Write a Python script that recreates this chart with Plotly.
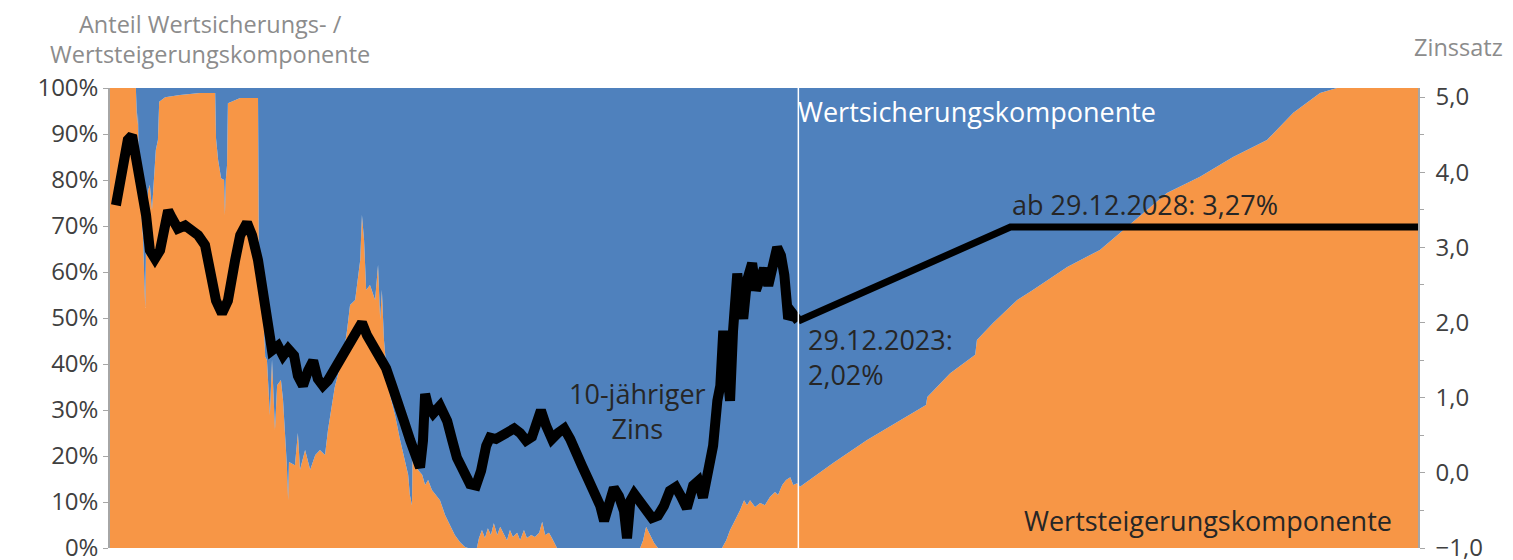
import plotly.graph_objects as go

# Anteil Wertsteigerungskomponente (linke Achse, %), Zeit in Jahren
anteil_jahr = [
    2007.76, 2008.37, 2008.40, 2008.42, 2008.44, 2008.49, 2008.54, 2008.59, 2008.61, 2008.66,
    2008.70, 2008.75, 2008.80, 2008.84, 2008.89, 2008.92, 2009.06, 2009.41, 2009.88, 2010.24,
    2010.26, 2010.31, 2010.38, 2010.45, 2010.47, 2010.49, 2010.52, 2010.54, 2010.83, 2011.25,
    2011.27, 2011.34, 2011.39, 2011.42, 2011.46, 2011.53, 2011.58, 2011.65, 2011.70, 2011.79,
    2011.84, 2011.89, 2011.93, 2011.96, 2011.98, 2012.12, 2012.19, 2012.24, 2012.36, 2012.48,
    2012.60, 2012.71, 2012.83, 2012.90, 2012.99, 2013.06, 2013.18, 2013.28, 2013.35, 2013.42,
    2013.54, 2013.66, 2013.70, 2013.75, 2013.80, 2013.89, 2014.01, 2014.08, 2014.13, 2014.17,
    2014.22, 2014.29, 2014.36, 2014.48, 2014.60, 2014.72, 2014.79, 2014.83, 2014.88, 2014.90,
    2014.95, 2015.02, 2015.12, 2015.19, 2015.26, 2015.35, 2015.45, 2015.54, 2015.66, 2015.78,
    2015.89, 2016.01, 2016.13, 2016.20, 2016.41, 2016.46, 2016.53, 2016.60, 2016.67, 2016.74,
    2016.81, 2016.89, 2016.96, 2017.03, 2017.12, 2017.19, 2017.26, 2017.36, 2017.43, 2017.52,
    2017.59, 2017.69, 2017.78, 2017.88, 2017.95, 2018.02, 2018.11, 2018.18, 2018.25, 2018.30,
    2020.26, 2020.33, 2020.40, 2020.49, 2020.59, 2020.68, 2022.19, 2022.29, 2022.38, 2022.50,
    2022.62, 2022.71, 2022.78, 2022.85, 2022.97, 2023.09, 2023.20, 2023.32, 2023.44, 2023.51,
    2023.61, 2023.70, 2023.80, 2023.87, 2023.96,
    # Prognose
    2024.03, 2024.81, 2025.61, 2026.39, 2027.00, 2027.03, 2027.57, 2028.16, 2028.20, 2028.58,
    2029.15, 2029.52, 2030.33, 2031.10, 2031.65, 2032.12, 2032.68, 2033.46, 2034.24, 2035.04,
    2035.66, 2036.29, 2036.69, 2038.60,
]
anteil_wertsteigerung = [
    100, 100, 92, 94.6, 81, 74.6, 67, 52.2, 65.9, 77.8,
    78.9, 73.5, 82.2, 86.5, 88.7, 97, 98, 98.5, 98.9, 98.9,
    89.1, 84.3, 80.4, 80, 72.4, 80, 83.3, 96.7, 97.8, 97.8,
    64.8, 61.5, 47.4, 41.5, 40.9, 28.9, 40.9, 25.7, 35.4, 36.5,
    32.2, 24.6, 18, 10.4, 18.7, 18, 25, 17, 21.3, 17,
    20.2, 21.3, 20.2, 25.7, 30.7, 35, 39.3, 43, 47.4, 52.8,
    53.9, 62.6, 72.4, 67, 56.1, 57.2, 53.9, 61.5, 49.6, 56.1,
    45.2, 37.6, 33.3, 28.9, 23.5, 19.1, 15.9, 11.5, 9.3, 24.6,
    23.5, 17, 15.9, 13.7, 14.8, 12.6, 11.5, 10.4, 7.2, 5,
    2.8, 1.3, 0.2, 0, 0, 2.2, 3.9, 2.2, 4.3, 2.8,
    5.4, 2.8, 4.6, 3.3, 1.7, 3.9, 2.4, 3.3, 1.7, 3.9,
    2.2, 2.8, 2.4, 3.3, 5.7, 2.8, 3.3, 2.2, 0.7, 0,
    0, 1.7, 4.6, 2.8, 1.1, 0, 0, 1.7, 3.9, 6.1,
    8.3, 10.4, 9.3, 10.4, 8.9, 9.8, 9.3, 11.1, 12.2, 11.5,
    13.7, 14.8, 15.4, 13.7, 14.1,
    13.3, 18.5, 23.5, 27.8, 31.1, 32.8, 38, 42, 45.2, 48.9,
    53.9, 56.1, 61.1, 64.8, 69.1, 72.8, 77.2, 80.7, 85, 88.7,
    94.6, 98.9, 100, 100,
]
anteil_wertsicherung = [100 - v for v in anteil_wertsteigerung]

# 10-jähriger Zins (rechte Achse, %)
zins_jahr = [
    2007.90, 2007.99, 2008.09, 2008.18, 2008.28, 2008.35, 2008.40, 2008.51, 2008.61, 2008.70,
    2008.82, 2008.94, 2009.06, 2009.13, 2009.22, 2009.36, 2009.53, 2009.69, 2009.84, 2010.00,
    2010.12, 2010.26, 2010.40, 2010.54, 2010.71, 2010.83, 2010.99, 2011.11, 2011.25, 2011.37,
    2011.49, 2011.58, 2011.72, 2011.84, 2011.96, 2012.10, 2012.19, 2012.31, 2012.43, 2012.55,
    2012.66, 2012.78, 2012.90, 2013.04, 2013.18, 2013.33, 2013.47, 2013.61, 2013.70, 2013.82,
    2013.96, 2014.13, 2014.27, 2014.41, 2014.55, 2014.69, 2014.84, 2014.95, 2015.07, 2015.14,
    2015.19, 2015.26, 2015.38, 2015.54, 2015.71, 2015.83, 2015.94, 2016.09, 2016.25, 2016.39,
    2016.51, 2016.63, 2016.72, 2016.86, 2017.01, 2017.15, 2017.29, 2017.43, 2017.57, 2017.71,
    2017.85, 2017.92, 2018.04, 2018.18, 2018.32, 2018.47, 2018.61, 2018.75, 2018.89, 2019.03,
    2019.17, 2019.32, 2019.41, 2019.50, 2019.64, 2019.76, 2019.88, 2019.95, 2020.03, 2020.12,
    2020.26, 2020.40, 2020.54, 2020.68, 2020.82, 2020.96, 2021.10, 2021.22, 2021.36, 2021.51,
    2021.63, 2021.74, 2021.86, 2021.98, 2022.08, 2022.15, 2022.22, 2022.29, 2022.38, 2022.45,
    2022.55, 2022.62, 2022.69, 2022.78, 2022.90, 2022.99, 2023.09, 2023.18, 2023.28, 2023.37,
    2023.49, 2023.58, 2023.66, 2023.75, 2023.84, 2023.99,
]
zins_wert = [
    3.56, 3.89, 4.16, 4.43, 4.49, 4.29, 4.03, 3.83, 3.43, 2.96,
    2.85, 2.96, 3.29, 3.49, 3.39, 3.25, 3.29, 3.23, 3.16, 3.03,
    2.69, 2.29, 2.12, 2.29, 2.83, 3.16, 3.33, 3.16, 2.83, 2.43,
    1.89, 1.63, 1.69, 1.56, 1.65, 1.56, 1.29, 1.16, 1.36, 1.49,
    1.25, 1.16, 1.23, 1.36, 1.49, 1.65, 1.79, 1.89, 2.00, 1.83,
    1.69, 1.56, 1.39, 1.16, 0.96, 0.69, 0.43, 0.23, 0.07, 0.43,
    1.05, 0.89, 0.79, 0.89, 0.69, 0.43, 0.20, 0.03, -0.15, -0.17,
    0.03, 0.36, 0.47, 0.45, 0.49, 0.53, 0.59, 0.53, 0.43, 0.48,
    0.76, 0.83, 0.63, 0.45, 0.53, 0.59, 0.45, 0.23, 0.09, -0.08,
    -0.24, -0.44, -0.64, -0.44, -0.20, -0.31, -0.51, -0.87, -0.37, -0.28,
    -0.37, -0.51, -0.60, -0.57, -0.44, -0.24, -0.19, -0.31, -0.47, -0.17,
    -0.11, -0.33, 0.03, 0.36, 0.96, 1.16, 1.89, 1.36, 0.96, 1.89,
    2.65, 2.29, 2.05, 2.56, 2.79, 2.43, 2.63, 2.72, 2.49, 2.76,
    3.00, 2.89, 2.63, 2.05, 2.13, 2.02,
]

# Zinsannahme ab Stichtag
prognose_jahr = [2023.99, 2028.99, 2038.60]
prognose_wert = [2.02, 3.27, 3.27]
stichtag = 2023.99

BLAU = "#4F81BD"
ORANGE = "#F79646"
FONT = "'Open Sans', 'Noto Sans', Arial, sans-serif"

fig = go.Figure()

fig.add_trace(go.Scatter(
    x=anteil_jahr, y=anteil_wertsteigerung, stackgroup="anteil",
    mode="lines", line=dict(width=0, color=ORANGE), fillcolor=ORANGE,
    name="Wertsteigerungskomponente",
))
fig.add_trace(go.Scatter(
    x=anteil_jahr, y=anteil_wertsicherung, stackgroup="anteil",
    mode="lines", line=dict(width=0, color=BLAU), fillcolor=BLAU,
    name="Wertsicherungskomponente",
))

# Zinsverlauf
fig.add_trace(go.Scatter(
    x=zins_jahr, y=zins_wert, yaxis="y2", mode="lines",
    line=dict(color="black", width=10), name="10-jähriger Zins",
))
fig.add_trace(go.Scatter(
    x=prognose_jahr, y=prognose_wert, yaxis="y2", mode="lines",
    line=dict(color="black", width=7), name="Prognose",
))

# Stichtagslinie
fig.add_shape(type="line", x0=stichtag, x1=stichtag, y0=0, y1=1,
              xref="x", yref="paper", line=dict(color="white", width=1.5))

text_dunkel = "#262626"
ann_size = 27
ann = [
    dict(x=2028.2, y=94.8, text="Wertsicherungskomponente", font=dict(color="white", size=ann_size)),
    dict(x=2033.65, y=5.9, text="Wertsteigerungskomponente", font=dict(color=text_dunkel, size=ann_size)),
    dict(x=2020.19, y=29.8, text="10-jähriger<br>Zins", font=dict(color=text_dunkel, size=ann_size)),
    dict(x=2024.17, y=41.6, text="29.12.2023:<br>2,02%", xanchor="left", align="left",
         font=dict(color=text_dunkel, size=ann_size)),
    dict(x=2028.98, y=74.6, text="ab 29.12.2028: 3,27%", xanchor="left",
         font=dict(color=text_dunkel, size=ann_size)),
]
for a in ann:
    fig.add_annotation(showarrow=False, xref="x", yref="y", **a)

titel_grau = "#8c8c8c"
fig.add_annotation(x=0.0765, y=1.1402, xref="paper", yref="paper", showarrow=False,
                   text="Anteil Wertsicherungs- /", font=dict(color=titel_grau, size=23.5),
                   xanchor="center", yanchor="middle")
fig.add_annotation(x=0.0765, y=1.0739, xref="paper", yref="paper", showarrow=False,
                   text="Wertsteigerungskomponente", font=dict(color=titel_grau, size=23.5),
                   xanchor="center", yanchor="middle")
fig.add_annotation(x=1.0665, y=1.089, xref="paper", yref="paper", showarrow=False,
                   text="Zinssatz", font=dict(color=titel_grau, size=23.5),
                   xanchor="right", yanchor="middle")

# Seite hat 8px Rand, daher Breite/Höhe und Ränder entsprechend angepasst
fig.update_layout(
    width=1505, height=552,
    margin=dict(l=102, r=95, t=80, b=12, autoexpand=False),
    paper_bgcolor="white", plot_bgcolor="white",
    separators=",.",
    showlegend=False,
    font=dict(family=FONT, color="#404040", size=24),
    xaxis=dict(range=[2007.76, 2038.60], visible=False, showgrid=False, zeroline=False),
    yaxis=dict(
        range=[0, 100], dtick=10, ticksuffix="%", showgrid=False, zeroline=False,
        showline=True, linecolor="#a6a6a6", linewidth=1.5,
        ticks="outside", ticklen=5, tickcolor="#a6a6a6",
        ticklabeloverflow="allow",
        tickfont=dict(size=24, color="#404040"),
    ),
    yaxis2=dict(
        range=[-1.0, 5.12], overlaying="y", side="right", tickvals=[-1, 0, 1, 2, 3, 4, 5],
        tickformat=".1f", ticksuffix="%", showgrid=False, zeroline=False,
        showline=True, linecolor="#a6a6a6", linewidth=1.5,
        ticks="outside", ticklen=5, tickcolor="#a6a6a6",
        ticklabeloverflow="allow", ticklabelstandoff=6,
        minor=dict(ticks="outside", ticklen=4, tickcolor="#a6a6a6", dtick=0.5, tick0=-1),
        tickfont=dict(size=24, color="#404040"),
    ),
)

fig.write_html("out.html")
